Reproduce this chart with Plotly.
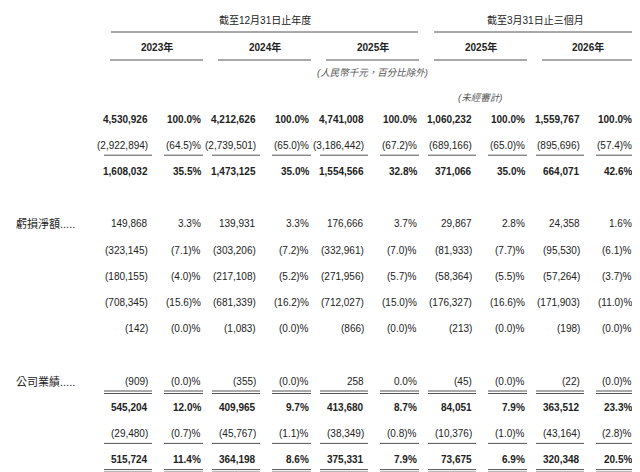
import plotly.graph_objects as go

row_labels = ["收入.........", "銷售成本 ......", "毛利.........", "其他收入、收益及",
              "虧損淨額.....", "銷售及經銷開支 ..", "行政開支 ......", "研發開支 ......",
              "財務成本 ......", "分佔聯營", "公司業績.....", "除稅前利潤.....",
              "所得稅開支.....", "年／期內利潤...."]
indent = [0, 0, 0, 0, 1, 0, 0, 0, 0, 0, 1, 0, 0, 0]
bold = [1, 0, 1, 0, 0, 0, 0, 0, 0, 0, 0, 1, 0, 1]

amt_2023 = ["4,530,926", "(2,922,894)", "1,608,032", "", "149,868", "(323,145)", "(180,155)", "(708,345)", "(142)", "", "(909)", "545,204", "(29,480)", "515,724"]
pct_2023 = ["100.0%", "(64.5)%", "35.5%", "", "3.3%", "(7.1)%", "(4.0)%", "(15.6)%", "(0.0)%", "", "(0.0)%", "12.0%", "(0.7)%", "11.4%"]
amt_2024 = ["4,212,626", "(2,739,501)", "1,473,125", "", "139,931", "(303,206)", "(217,108)", "(681,339)", "(1,083)", "", "(355)", "409,965", "(45,767)", "364,198"]
pct_2024 = ["100.0%", "(65.0)%", "35.0%", "", "3.3%", "(7.2)%", "(5.2)%", "(16.2)%", "(0.0)%", "", "(0.0)%", "9.7%", "(1.1)%", "8.6%"]
amt_2025 = ["4,741,008", "(3,186,442)", "1,554,566", "", "176,666", "(332,961)", "(271,956)", "(712,027)", "(866)", "", "258", "413,680", "(38,349)", "375,331"]
pct_2025 = ["100.0%", "(67.2)%", "32.8%", "", "3.7%", "(7.0)%", "(5.7)%", "(15.0)%", "(0.0)%", "", "0.0%", "8.7%", "(0.8)%", "7.9%"]
amt_q2025 = ["1,060,232", "(689,166)", "371,066", "", "29,867", "(81,933)", "(58,364)", "(176,327)", "(213)", "", "(45)", "84,051", "(10,376)", "73,675"]
pct_q2025 = ["100.0%", "(65.0)%", "35.0%", "", "2.8%", "(7.7)%", "(5.5)%", "(16.6)%", "(0.0)%", "", "(0.0)%", "7.9%", "(1.0)%", "6.9%"]
amt_q2026 = ["1,559,767", "(895,696)", "664,071", "", "24,358", "(95,530)", "(57,264)", "(171,903)", "(198)", "", "(22)", "363,512", "(43,164)", "320,348"]
pct_q2026 = ["100.0%", "(57.4)%", "42.6%", "", "1.6%", "(6.1)%", "(3.7)%", "(11.0)%", "(0.0)%", "", "(0.0)%", "23.3%", "(2.8)%", "20.5%"]

year_labels = ["2023年", "2024年", "2025年", "2025年", "2026年"]
columns = [(amt_2023, pct_2023), (amt_2024, pct_2024), (amt_2025, pct_2025),
           (amt_q2025, pct_q2025), (amt_q2026, pct_q2026)]

FONT = "Liberation Sans, Noto Sans CJK TC"
INK = "#222"
col_left = [110, 218, 326, 434, 542]
amt_right = [150, 258, 366, 474, 582]
pct_right = [203, 311, 419, 527, 634]
row_y0, row_dy = 119, 26.2
OFF = 8  # page body margin in the viewer

fig = go.Figure()
ann, shp = [], []

def text(x, y, s, anchor="left", size=10, b=False, italic=False, color=INK):
    if b:
        s = "<b>" + s + "</b>"
    if italic:
        s = "<i>" + s + "</i>"
    ann.append(dict(x=x, y=y, text=s, xanchor=anchor, yanchor="middle", showarrow=False,
                    font=dict(family=FONT, size=size, color=color)))

def hline(x0, x1, y, w=1.2):
    shp.append(dict(type="line", x0=x0, x1=x1, y0=y, y1=y, line=dict(color="#555", width=w)))

# header
text(265, 20, "截至12月31日止年度", "center", 10)
text(535, 20, "截至3月31日止三個月", "center", 10)
hline(111, 418, 32)
hline(434, 634, 32)
for i, yl in enumerate(year_labels):
    text((col_left[i] + pct_right[i]) / 2, 47, yl, "center", 10, b=True)
    hline(col_left[i], pct_right[i], 60)
text(372, 72, "(人民幣千元，百分比除外)", "center", 9.5, italic=True, color="#555")
text(480, 97, "(未經審計)", "center", 9.5, italic=True, color="#555")

for r, lab in enumerate(row_labels):
    y = row_y0 + r * row_dy
    text(5 + indent[r] * 9, y, lab, "left", 11, b=bool(bold[r]))
    for c, (amts, pcts) in enumerate(columns):
        text(amt_right[c], y, amts[r], "right", 10, b=bool(bold[r]))
        text(pct_right[c], y, pcts[r], "right", 10, b=bool(bold[r]))

# rule lines under totals
def under(r, double=False):
    y = row_y0 + r * row_dy + 10
    for c in range(5):
        for x0, x1 in [(col_left[c] - 6, amt_right[c] + 2), (amt_right[c] + 14, pct_right[c])]:
            hline(x0, x1, y, 1)
            if double:
                hline(x0, x1, y + 2.5, 1)

under(1)
under(10, True)
under(12)
under(13, True)

fig.update_layout(
    width=640, height=472, margin=dict(l=0, r=0, t=0, b=0),
    plot_bgcolor="white", paper_bgcolor="white",
    xaxis=dict(range=[OFF, 640 + OFF], visible=False, fixedrange=True),
    yaxis=dict(range=[472 + OFF, OFF], visible=False, fixedrange=True),
    annotations=ann, shapes=shp, showlegend=False,
)
fig.write_html("out.html")
